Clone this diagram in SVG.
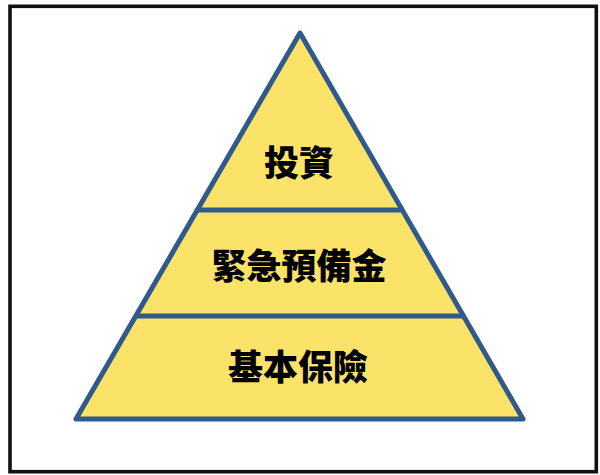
<svg xmlns="http://www.w3.org/2000/svg" width="600" height="475" viewBox="0 0 600 475">
<style>
.frame{fill:#ffffff;stroke:#111111;stroke-width:3.6}
.tier{fill:#FBE36A;stroke:#305A8B;stroke-width:5;stroke-linejoin:round}
.div{stroke:#305A8B;stroke-width:5;fill:none}
.lbl{font-family:"Noto Sans CJK TC","Noto Sans CJK SC",sans-serif;font-weight:900;font-size:35px;fill:#000000;text-anchor:middle;dominant-baseline:central}
</style>
<rect class="frame" x="10" y="6.3" width="586.3" height="465.4"/>
<g id="pyramid">
<polygon class="tier" points="300,33 523,419 76,419"/>
</g>
<g id="connectors">
<line class="div" x1="197" y1="210" x2="404" y2="210"/>
<line class="div" x1="136" y1="316" x2="464" y2="316"/>
</g>
<g id="node-top"><text class="lbl" x="299" y="160">投資</text></g>
<g id="node-middle"><text class="lbl" x="299" y="263.5">緊急預備金</text></g>
<g id="node-bottom"><text class="lbl" x="298" y="364.5">基本保險</text></g>
</svg>
